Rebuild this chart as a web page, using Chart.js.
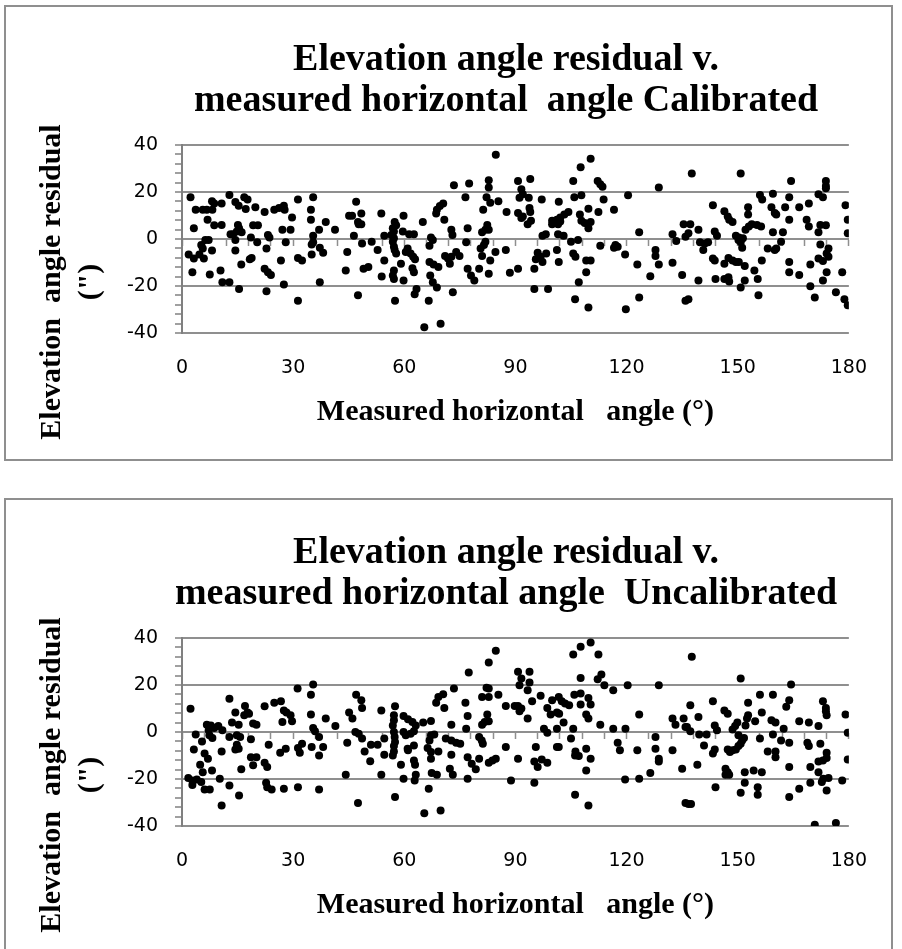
<!DOCTYPE html>
<html>
<head>
<meta charset="utf-8">
<script src="https://cdn.jsdelivr.net/npm/chart.js@4.4.1/dist/chart.umd.min.js"></script>
<style>
  html, body { margin: 0; padding: 0; background: #fff; overflow: hidden; }
  .box { position: absolute; left: 4px; width: 885px; height: 452px; border: 2px solid #8f8f8f; background: #fff; }
  .box canvas { position: absolute; left: 0; top: 0; }
  .title { position: absolute; left: 0; top: 30px; width: 1000px; text-align: center; white-space: pre;
           font: bold 38px 'Liberation Serif', 'Times New Roman', serif; line-height: 41px; color: #000; }
  .ytitle { position: absolute; left: -117px; top: 237px; width: 360px; height: 76px; text-align: center; white-space: pre;
            transform: rotate(-90deg); font: bold 30px 'Liberation Serif', 'Times New Roman', serif; line-height: 38px; color: #000; }
</style>
</head>
<body>
<div class="box" style="top:5px">
  <canvas id="cal" width="885" height="452"></canvas>
  <div class="title">Elevation angle residual v.
measured horizontal  angle Calibrated</div>
  <div class="ytitle">Elevation  angle residual
(")</div>
</div>
<div class="box" style="top:498px">
  <canvas id="uncal" width="885" height="452"></canvas>
  <div class="title">Elevation angle residual v.
measured horizontal angle  Uncalibrated</div>
  <div class="ytitle">Elevation  angle residual
(")</div>
</div>
<script>
// [measured horizontal angle (deg), elevation residual (arcsec)]
const calibrated = [
  [2.3,17.8],[12.8,18.7],[16.8,17.8],[17.7,16.8],[8.1,16.1],[8.7,15.1],[10.7,15.1],[14.4,15.7],[15.3,14.2],[17.2,12.8],
  [19.8,13.5],[3.7,12.5],[5.6,12.5],[6.7,12.5],[8.2,12.5],[22.3,11.5],[24.9,12.5],[26.2,13.2],[27.5,14.2],[27.7,12.5],
  [31.3,16.8],[35.4,17.8],[34.8,12.5],[34.8,8.2],[29.7,9.2],[6.9,8.2],[38.8,7.2],[37.0,3.9],[41.3,3.9],[3.2,4.6],
  [8.7,5.8],[10.7,6.0],[15.1,6.0],[15.4,4.6],[14.8,3.2],[16.1,2.9],[13.1,2.0],[13.8,2.0],[14.4,-0.4],[19.2,5.8],
  [20.5,5.8],[18.6,0.6],[20.3,-1.4],[23.2,1.7],[23.6,0.6],[27.1,3.9],[29.3,3.9],[28.0,-1.4],[35.4,1.4],[35.0,-2.3],
  [35.4,-1.4],[37.2,-3.7],[38.1,-5.8],[6.3,-0.4],[7.2,-0.4],[5.2,-2.6],[5.6,-4.0],[8.1,-4.9],[14.4,-4.9],[1.8,-6.6],
  [3.2,-8.3],[4.7,-6.6],[5.9,-8.3],[22.8,-4.0],[18.8,-8.1],[18.3,-8.6],[16.0,-10.8],[26.7,-9.1],[31.3,-8.1],[32.4,-9.1],
  [35.0,-6.6],[22.3,-12.7],[23.2,-14.1],[24.0,-15.3],[2.8,-14.1],[7.5,-15.1],[10.4,-13.4],[10.9,-18.4],[12.8,-18.4],[15.4,-21.3],
  [27.5,-19.4],[37.2,-18.4],[22.8,-22.2],[31.3,-26.3],
  [84.7,35.8],[73.4,22.9],[77.5,23.6],[82.8,25.0],[82.8,21.9],[82.2,17.8],[83.2,15.4],[76.5,17.8],[85.4,16.1],[47.0,15.8],
  [70.5,15.1],[69.6,14.0],[68.8,12.5],[68.6,10.8],[81.3,12.5],[87.6,11.5],[45.1,9.9],[45.9,9.9],[48.4,10.8],[53.8,10.8],
  [59.8,9.9],[57.4,7.2],[57.8,5.8],[56.9,4.6],[57.2,3.2],[56.5,1.7],[57.2,0.3],[56.9,-1.2],[57.2,-3.3],[57.4,-4.7],
  [57.8,-6.2],[47.5,7.2],[48.4,6.3],[47.7,6.3],[65.0,7.2],[70.8,8.2],[59.6,3.2],[61.3,2.0],[62.6,2.0],[46.4,1.4],
  [54.6,1.4],[67.2,0.6],[67.7,-0.4],[66.8,-2.9],[72.7,3.9],[73.0,1.7],[77.1,4.6],[81.0,2.9],[81.9,3.9],[82.8,3.9],
  [82.4,6.0],[76.7,-1.4],[48.6,-1.9],[51.2,-1.2],[81.9,-1.2],[81.5,-2.6],[80.6,-4.0],[44.6,-5.5],[52.8,-4.7],[60.9,-4.0],
  [61.7,-6.2],[62.4,-7.6],[62.9,-8.6],[60.4,-5.5],[84.6,-5.5],[87.4,-4.7],[71.0,-7.2],[71.8,-8.3],[72.7,-7.6],[74.0,-5.5],
  [74.9,-7.2],[72.3,-10.5],[81.0,-7.2],[83.2,-9.1],[54.6,-9.1],[66.8,-9.8],[67.9,-10.9],[69.2,-11.9],[59.1,-10.5],[49.0,-12.7],
  [50.3,-11.9],[44.2,-13.4],[57.2,-13.4],[57.2,-17.0],[56.9,-15.5],[62.2,-12.4],[62.6,-14.1],[53.9,-16.0],[59.8,-17.7],[67.0,-15.5],
  [67.7,-18.4],[68.8,-20.6],[77.1,-12.7],[78.0,-15.5],[78.9,-17.7],[80.2,-12.7],[82.8,-14.8],[88.5,-14.4],[63.3,-21.3],[62.8,-23.5],
  [73.1,-22.7],[47.5,-23.9],[57.5,-26.3],[66.6,-26.3],[65.4,-37.6],[69.8,-36.1],
  [110.3,34.1],[107.6,30.5],[90.7,24.7],[94.0,25.5],[105.6,24.7],[112.2,24.7],[112.9,23.3],[113.5,22.2],[128.7,21.9],[91.6,21.2],
  [92.0,19.0],[91.1,17.6],[93.6,17.6],[120.4,18.6],[105.9,17.8],[107.8,18.6],[97.1,16.8],[101.7,15.8],[113.8,16.8],[116.6,12.5],
  [93.8,13.2],[94.0,11.5],[90.7,11.1],[91.6,8.9],[92.0,9.6],[94.2,7.8],[93.3,6.3],[104.3,11.5],[103.2,10.4],[102.1,9.2],
  [101.2,8.2],[99.9,7.8],[99.9,6.3],[101.5,6.3],[102.1,7.5],[107.4,10.4],[107.8,7.8],[108.7,6.8],[109.7,12.9],[110.3,7.2],
  [109.7,4.6],[112.4,11.5],[98.2,2.0],[97.3,1.4],[101.5,2.0],[103.0,1.4],[105.0,-1.2],[106.9,-0.4],[123.4,2.9],[132.4,2.0],
  [133.4,-0.9],[135.4,6.3],[135.9,1.0],[112.9,-2.9],[116.6,-3.7],[117.6,-3.3],[117.0,-2.6],[119.6,-6.6],[101.2,-4.7],[96.0,-5.8],
  [96.8,-7.6],[98.3,-6.2],[95.5,-8.6],[97.3,-9.8],[101.7,-9.8],[105.6,-6.2],[106.2,-7.6],[109.1,-9.1],[110.3,-9.1],[109.1,-14.1],
  [127.8,-4.7],[127.8,-7.2],[128.7,-10.9],[122.9,-10.9],[126.4,-15.8],[132.4,-10.1],[135.0,-15.3],[90.7,-12.7],[95.1,-12.7],[107.1,-18.4],
  [95.1,-21.3],[98.8,-21.3],[106.1,-25.6],[123.4,-24.9],[109.7,-29.2],[119.8,-29.9],[135.9,-26.3],
  [137.6,27.9],[150.8,27.9],[164.4,24.7],[173.8,24.7],[173.8,22.6],[173.8,21.6],[156.0,18.7],[156.6,16.8],[159.5,19.3],[163.9,17.8],
  [171.8,19.0],[173.0,17.8],[143.3,14.4],[152.8,13.5],[152.8,10.4],[159.1,13.5],[160.0,11.1],[160.4,10.4],[162.8,13.5],[166.6,13.5],
  [169.2,15.1],[179.1,14.4],[179.7,8.2],[179.7,2.4],[146.4,11.8],[147.3,9.6],[148.6,7.2],[147.7,8.2],[163.9,8.2],[168.6,8.2],
  [169.2,5.3],[137.2,6.3],[136.7,2.4],[139.4,3.9],[143.8,3.2],[144.4,1.4],[153.0,5.3],[152.1,3.9],[153.8,6.3],[155.2,6.0],
  [156.3,5.3],[149.5,1.4],[150.2,-0.4],[150.8,-1.4],[151.2,-3.7],[150.3,0.6],[151.4,0.3],[159.5,2.9],[162.2,2.9],[161.7,-1.2],
  [171.8,2.9],[172.3,6.0],[173.8,5.8],[172.3,-2.3],[174.5,-4.0],[174.0,-6.2],[174.5,-7.6],[139.8,-1.4],[141.1,-1.9],[142.0,-1.4],
  [140.7,-4.7],[158.1,-4.0],[160.0,-4.7],[160.4,-4.0],[143.8,-9.1],[143.3,-8.3],[146.4,-10.5],[147.5,-8.1],[148.6,-9.1],[149.5,-9.8],
  [150.3,-9.8],[151.9,-11.5],[156.5,-9.1],[163.9,-9.8],[163.9,-14.1],[166.6,-15.3],[169.6,-10.9],[171.8,-8.3],[173.0,-9.4],[154.5,-13.4],
  [155.4,-17.0],[174.0,-14.1],[178.2,-14.1],[139.4,-17.7],[144.0,-17.0],[146.4,-17.0],[147.5,-16.3],[147.7,-18.1],[150.8,-20.6],[151.9,-17.7],
  [173.0,-17.7],[169.6,-20.1],[170.8,-24.9],[155.6,-23.9],[176.5,-22.7],[178.8,-25.6],[179.7,-28.2],[136.7,-25.6]
];

const uncalibrated = [
  [31.2,18.5],[35.4,20.2],[34.8,15.9],[2.3,9.9],[12.8,14.2],[17.0,11.1],[17.7,8.3],[16.8,7.1],[18.1,7.8],[14.4,8.3],
  [22.3,11.0],[24.9,12.5],[26.7,13.1],[27.5,9.2],[28.2,8.3],[29.3,7.1],[27.1,4.3],[29.7,4.6],[34.8,7.4],[38.8,5.7],
  [41.4,2.6],[6.7,3.1],[7.8,2.8],[8.7,1.7],[9.8,2.6],[10.9,0.7],[7.2,0.7],[13.5,4.0],[15.3,3.1],[19.2,3.6],
  [20.1,3.1],[3.7,-1.1],[5.4,-4.0],[8.2,-2.6],[7.4,-1.4],[12.8,-2.1],[14.8,-1.4],[15.7,-2.1],[18.6,-3.1],[14.8,-5.4],
  [15.3,-7.1],[14.4,-7.4],[35.4,1.7],[35.9,0.3],[37.0,-2.1],[35.0,-6.4],[38.1,-6.4],[37.0,-10.0],[23.4,-5.4],[26.5,-8.8],
  [28.0,-7.1],[31.3,-6.8],[32.4,-5.0],[31.8,-8.8],[3.2,-7.4],[6.1,-9.2],[7.0,-11.4],[10.7,-8.3],[4.9,-13.9],[5.6,-17.1],
  [8.1,-16.4],[18.6,-10.7],[20.1,-10.7],[19.2,-14.2],[22.3,-13.1],[23.0,-14.9],[16.0,-15.9],[1.7,-19.6],[2.8,-20.6],[4.0,-20.2],
  [5.2,-21.3],[2.8,-22.5],[6.1,-24.5],[7.5,-24.5],[10.2,-19.9],[12.8,-22.8],[15.4,-27.0],[10.7,-31.3],[22.7,-21.6],[23.0,-23.5],
  [24.2,-24.5],[27.5,-24.2],[31.3,-23.5],[37.0,-24.5],
  [84.7,34.6],[82.8,29.6],[77.4,25.3],[73.4,18.5],[82.2,18.8],[82.8,18.5],[81.0,14.9],[82.8,14.9],[85.4,15.9],[47.0,15.9],
  [48.4,13.5],[48.6,10.2],[70.5,16.1],[69.2,14.9],[68.6,12.5],[70.8,10.2],[76.5,12.4],[87.4,11.1],[89.8,11.1],[45.1,8.3],
  [46.0,5.7],[53.8,9.2],[57.5,11.0],[57.2,7.1],[57.2,5.0],[56.9,2.8],[57.2,0.0],[57.4,-2.1],[57.5,-4.3],[57.2,-6.0],
  [57.2,-8.3],[56.9,-10.0],[59.8,6.8],[61.0,5.4],[62.2,4.3],[63.1,2.8],[62.6,0.3],[61.7,-0.7],[59.8,0.0],[60.4,-1.4],
  [65.1,4.0],[67.2,4.7],[77.1,6.8],[82.4,7.4],[81.7,4.3],[82.8,4.6],[81.0,3.1],[72.7,3.1],[76.7,1.4],[46.8,0.0],
  [47.7,-0.7],[48.6,-2.8],[44.6,-4.6],[54.6,-2.8],[51.0,-5.4],[52.8,-5.4],[49.3,-8.3],[50.8,-12.4],[54.6,-9.7],[61.0,-7.8],
  [62.6,-5.7],[60.9,-7.1],[59.1,-13.9],[62.6,-12.1],[62.9,-13.9],[67.2,-1.4],[68.1,-1.1],[66.8,-3.6],[66.3,-6.8],[67.2,-8.5],
  [67.2,-11.4],[69.2,-8.3],[71.2,-2.8],[72.7,-3.6],[74.0,-4.6],[75.1,-5.0],[72.7,-9.7],[80.2,-2.1],[81.2,-5.0],[80.9,-3.6],
  [77.1,-10.7],[78.2,-13.5],[79.3,-15.9],[80.2,-11.4],[82.8,-13.1],[83.8,-12.1],[84.7,-11.4],[87.4,-6.4],[72.3,-15.6],[73.1,-18.2],
  [67.4,-17.4],[68.8,-18.2],[53.8,-18.2],[44.2,-18.2],[63.1,-18.2],[62.8,-20.6],[59.8,-19.9],[77.1,-19.9],[88.8,-20.6],[66.6,-24.2],
  [57.5,-27.7],[47.5,-30.2],[65.4,-34.6],[69.8,-33.4],
  [110.3,38.1],[107.6,36.3],[105.6,33.0],[112.4,33.0],[90.7,25.6],[91.6,22.8],[93.8,25.6],[91.1,19.9],[93.8,21.1],[93.3,17.8],
  [107.6,23.0],[112.2,22.5],[113.2,24.5],[114.0,19.9],[120.3,19.9],[128.7,19.9],[116.4,17.8],[105.9,15.9],[107.6,16.4],[96.8,15.4],
  [94.5,13.1],[99.9,13.5],[101.7,14.9],[102.5,13.1],[103.4,12.1],[104.5,11.4],[109.7,14.5],[110.3,11.7],[107.6,11.7],[90.7,11.1],
  [91.6,10.0],[91.1,8.8],[98.6,10.2],[99.5,7.4],[101.2,8.3],[101.8,7.8],[109.1,7.4],[109.7,5.7],[93.3,5.7],[123.4,7.4],
  [103.0,4.0],[101.2,1.4],[112.9,3.1],[97.7,1.4],[98.6,-0.3],[105.6,1.4],[105.0,-2.8],[116.4,1.4],[119.7,1.4],[132.4,5.7],
  [133.2,3.1],[135.4,5.7],[135.9,2.1],[117.6,-4.6],[118.2,-7.8],[127.8,-2.1],[127.8,-7.1],[128.7,-11.4],[128.7,-12.5],[122.9,-7.8],
  [132.4,-7.8],[95.5,-6.4],[101.2,-6.4],[101.7,-6.4],[106.2,-8.3],[107.1,-10.2],[106.1,-10.0],[109.1,-7.1],[110.3,-11.4],[90.7,-11.4],
  [95.1,-12.5],[97.1,-11.7],[96.0,-14.9],[98.6,-13.1],[109.1,-16.4],[126.4,-17.4],[135.0,-15.6],[95.1,-21.6],[119.6,-20.2],[123.4,-19.9],
  [106.1,-26.7],[109.7,-31.3],[135.9,-30.2],
  [137.6,32.0],[150.8,22.8],[164.4,20.2],[156.0,15.9],[159.5,15.9],[143.3,13.1],[152.8,12.5],[137.2,11.4],[163.9,13.5],[163.1,10.7],
  [173.0,13.1],[173.8,10.2],[173.8,8.8],[174.0,7.1],[146.4,9.2],[147.3,7.8],[156.5,8.3],[179.1,7.4],[139.4,6.4],[152.8,7.1],
  [152.5,5.7],[154.7,4.6],[149.9,4.0],[149.3,2.6],[152.1,2.8],[159.1,5.0],[160.2,4.0],[162.4,1.4],[166.6,4.6],[169.2,4.0],
  [171.8,2.6],[136.3,2.1],[137.2,0.3],[143.8,2.8],[144.4,0.7],[139.6,-1.1],[141.6,-1.1],[148.6,1.1],[150.2,-1.4],[151.2,-3.6],
  [151.7,-2.6],[150.8,-5.0],[150.2,-6.0],[149.5,-7.4],[148.6,-7.8],[147.3,-7.4],[147.9,-8.5],[159.5,-1.1],[156.0,-2.8],[161.7,-3.6],
  [163.9,-4.6],[179.7,-0.3],[168.8,-4.6],[169.2,-6.0],[172.3,-5.0],[140.9,-5.7],[143.8,-7.4],[143.3,-9.2],[158.1,-8.3],[160.2,-8.3],
  [160.2,-10.7],[174.0,-8.8],[174.0,-11.1],[173.0,-12.1],[171.8,-12.5],[179.7,-11.7],[163.9,-14.9],[169.6,-14.9],[139.1,-13.9],[146.7,-15.6],
  [146.7,-18.2],[147.3,-17.1],[147.7,-18.2],[151.9,-17.1],[154.3,-16.4],[156.5,-17.1],[171.8,-17.1],[173.1,-19.9],[174.5,-19.6],[172.7,-21.3],
  [174.0,-24.9],[178.2,-20.6],[151.9,-21.6],[169.6,-21.6],[144.0,-23.5],[155.4,-23.5],[155.4,-26.7],[150.8,-25.9],[166.6,-24.2],[163.9,-27.7],
  [136.7,-30.6],[137.4,-30.6],[170.8,-39.5],[176.5,-38.7]
];

// axis ranges / tick steps
const xRange = [0, 180];
const xLabelStep = 30;
const xMinorStep = 6;
const yRange = [-40, 40];
const yLabelStep = 20;
const yMinorStep = 4;
const xTitle = 'Measured horizontal   angle (\u00b0)';

const gridGray = '#8f8f8f';
const axisGray = '#808080';

function makeChart(id, pts) {
  new Chart(document.getElementById(id), {
    type: 'scatter',
    data: {
      datasets: [{
        data: pts.map(p => ({ x: p[0], y: p[1] })),
        backgroundColor: '#000',
        borderWidth: 0,
        pointRadius: 4
      }]
    },
    options: {
      responsive: false,
      animation: false,
      layout: { padding: { left: 0, top: 138, right: 25, bottom: 0 } },
      plugins: { legend: { display: false }, tooltip: { enabled: false } },
      scales: {
        x: {
          type: 'linear', position: 'bottom', min: xRange[0], max: xRange[1],
          ticks: { stepSize: xLabelStep, padding: 24, color: '#000', font: { family: 'DejaVu Sans', size: 19 } },
          grid: { display: false, drawTicks: false },
          border: { display: false },
          title: {
            display: true, text: xTitle, color: '#000',
            font: { family: 'Liberation Serif', size: 30, weight: 'bold' },
            padding: { top: 0, bottom: 29 }
          },
          afterFit: s => { s.height = 126; }
        },
        xZero: {
          type: 'linear', position: { y: 0 }, min: xRange[0], max: xRange[1],
          ticks: { display: false, stepSize: xMinorStep, autoSkip: false },
          grid: { drawOnChartArea: false, drawTicks: true, tickLength: 6, tickColor: gridGray, tickWidth: 1.5 },
          border: { display: true, color: gridGray, width: 2 }
        },
        y: {
          min: yRange[0], max: yRange[1],
          ticks: {
            stepSize: yMinorStep, autoSkip: false, padding: 17, color: '#000',
            font: { family: 'DejaVu Sans', size: 19 },
            callback: v => (v % yLabelStep === 0 ? v : '')
          },
          grid: {
            color: c => (c.tick && c.tick.value % yLabelStep === 0 ? gridGray : 'rgba(0,0,0,0)'),
            lineWidth: 2, tickColor: axisGray, tickLength: 7, tickWidth: 1.5
          },
          border: { color: axisGray, width: 2 },
          afterFit: s => { s.width = 176; }
        }
      }
    }
  });
}

makeChart('cal', calibrated);
makeChart('uncal', uncalibrated);
</script>
</body>
</html>
